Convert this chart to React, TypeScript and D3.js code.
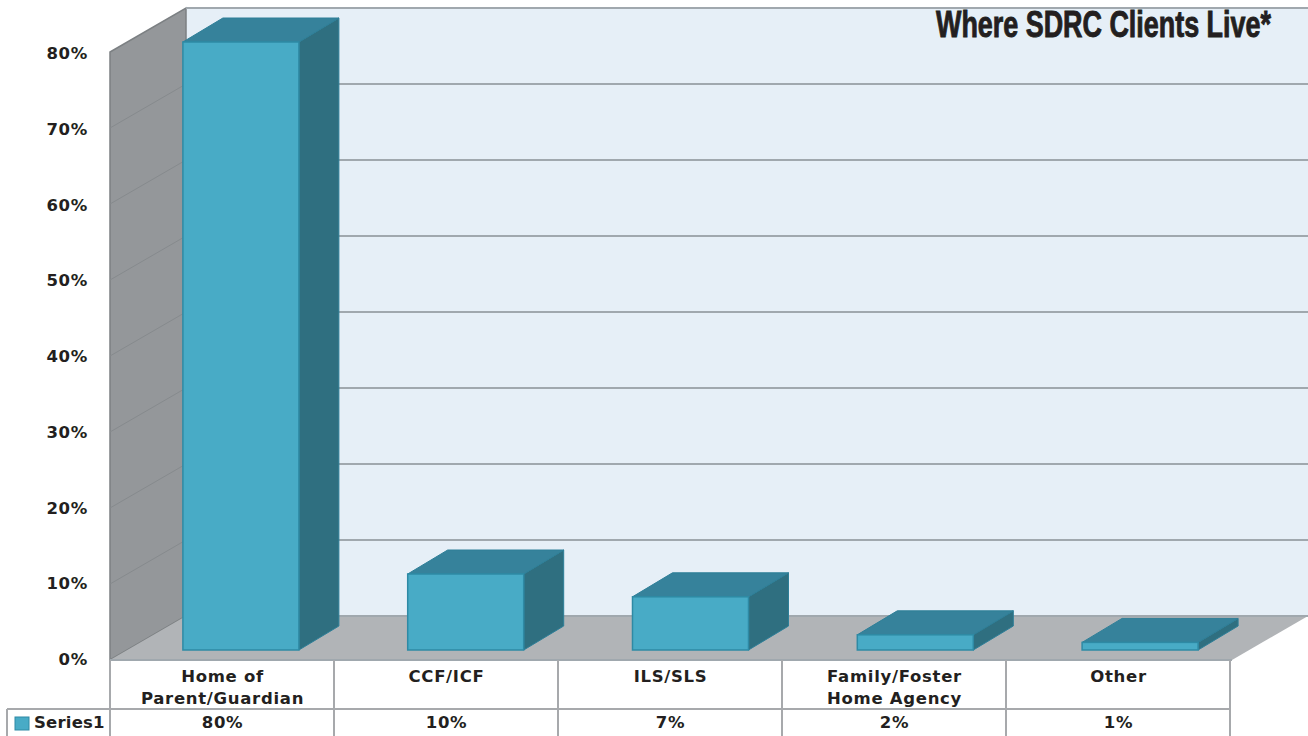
import React from "react";
import * as d3 from "d3";

const categories = ["Home of|Parent/Guardian", "CCF/ICF", "ILS/SLS", "Family/Foster|Home Agency", "Other"];
const values = [80, 10, 7, 2, 1];
const valueLabels = ["80%", "10%", "7%", "2%", "1%"];
const ticks = [0, 10, 20, 30, 40, 50, 60, 70, 80];
const seriesName = "Series1";
const title = "Where SDRC Clients Live*";

const W = 1308, H = 736;
const wallLeft = 110, tableRight = 1230;
const floorFront = 660, depthX = 76, depthY = 44;
const barBase = 650, barDX = 40, barDY = 24;
const unitHeight = 7.6;
const tableRow = 709, legendLeft = 7;

const x = d3.scaleBand<number>().domain(d3.range(values.length)).range([wallLeft, tableRight]);
const xBar = d3.scaleBand<number>().domain(d3.range(values.length)).range([128.5, 1252.5]);
const barW = 116;
const barX = (i: number) => (xBar(i) as number) + (xBar.bandwidth() - barW) / 2;
const yWall = d3.scaleLinear().domain([0, 80]).range([floorFront, floorFront - 80 * unitHeight]);
const yBar = d3.scaleLinear().domain([0, 80]).range([barBase, barBase - 80 * unitHeight]);
const yLabel = d3.scaleLinear().domain([0, 80]).range([665, 59]);

const poly = (pts: [number, number][]) => (d3.line()(pts) as string) + "Z";

const gridC = "#a0a8ae";
const textC = "#231f20";
const font = "'DejaVu Sans', Verdana, sans-serif";
const labelProps = { fontFamily: font, fontWeight: 700, fontSize: 16.5, fill: textC, letterSpacing: 0.7 };

export default function App() {
  const backRight = tableRight + depthX + 2;
  const yTop = yWall(80) - depthY;
  return (
    <svg width={W} height={H} viewBox={`0 0 ${W} ${H}`} style={{ position: "absolute", left: 0, top: 0, background: "#fff" }}>
      {/* back wall */}
      <rect x={wallLeft + depthX} y={yTop} width={backRight - wallLeft - depthX} height={yWall(0) - depthY - yTop} fill="#e6eff7" />
      {/* left wall */}
      <path d={poly([[wallLeft, yWall(0)], [wallLeft, yWall(80)], [wallLeft + depthX, yTop], [wallLeft + depthX, yWall(0) - depthY]])} fill="#94979a" stroke="#7c8083" strokeWidth={1.5} />
      {/* floor */}
      <path d={poly([[wallLeft, floorFront], [wallLeft + depthX, floorFront - depthY], [backRight, floorFront - depthY], [tableRight + 2, floorFront]])} fill="#b1b4b7" />
      {/* gridlines */}
      {ticks.map((t) => (
        <g key={t}>
          {t > 0 && t < 80 && <line x1={wallLeft} y1={yWall(t)} x2={wallLeft + depthX} y2={yWall(t) - depthY} stroke="#868a8d" strokeWidth={1} />}
          <line x1={wallLeft + depthX} y1={yWall(t) - depthY} x2={backRight} y2={yWall(t) - depthY} stroke={gridC} strokeWidth={2} />
        </g>
      ))}
      <line x1={wallLeft} y1={floorFront} x2={tableRight + 2} y2={floorFront} stroke={gridC} strokeWidth={2} />
      {/* bars */}
      {values.map((v, i) => {
        const l = barX(i), r = l + barW, t = yBar(v), b = yBar(0);
        return (
          <g key={i}>
            <path d={poly([[r, t], [r + barDX, t - barDY], [r + barDX, b - barDY], [r, b]])} fill="#2f6f80" stroke="#2e7f98" strokeWidth={1} />
            <path d={poly([[l, t], [l + barDX, t - barDY], [r + barDX, t - barDY], [r, t]])} fill="#36829b" stroke="#2e7f98" strokeWidth={1} />
            <rect x={l} y={t} width={barW} height={b - t} fill="#48abc6" stroke="#2e8aa5" strokeWidth={1.5} />
          </g>
        );
      })}
      {/* y tick labels */}
      {ticks.map((t) => (
        <text key={t} x={88} y={yLabel(t)} textAnchor="end" {...labelProps}>{t}%</text>
      ))}
      {/* data table */}
      <g stroke="#a7a9ac" strokeWidth={2}>
        <line x1={legendLeft} y1={tableRow} x2={tableRight} y2={tableRow} />
        <line x1={legendLeft} y1={tableRow} x2={legendLeft} y2={H} />
        {d3.range(values.length + 1).map((i) => {
          const xx = i < values.length ? (x(i) as number) : tableRight;
          return <line key={i} x1={xx} y1={floorFront} x2={xx} y2={H} />;
        })}
      </g>
      {categories.map((c, i) => {
        const cx = (x(i) as number) + x.bandwidth() / 2 + 0.5;
        return c.split("|").map((s, j) => (
          <text key={s} x={cx} y={682 + j * 22} textAnchor="middle" {...labelProps}>{s}</text>
        ));
      })}
      {valueLabels.map((s, i) => (
        <text key={s} x={(x(i) as number) + x.bandwidth() / 2 + 0.5} y={728} textAnchor="middle" {...labelProps}>{s}</text>
      ))}
      <rect x={15} y={717} width={14} height={13} fill="#48abc6" stroke="#2e8aa5" strokeWidth={1} />
      <text x={34} y={728} {...labelProps} letterSpacing={0.2}>{seriesName}</text>
      {/* title */}
      <text transform="translate(936,37) scale(0.748,1)" fontFamily="'Liberation Sans', sans-serif" fontWeight={700} fontSize={36} fill={textC} stroke={textC} strokeWidth={0.9}>{title}</text>
    </svg>
  );
}
